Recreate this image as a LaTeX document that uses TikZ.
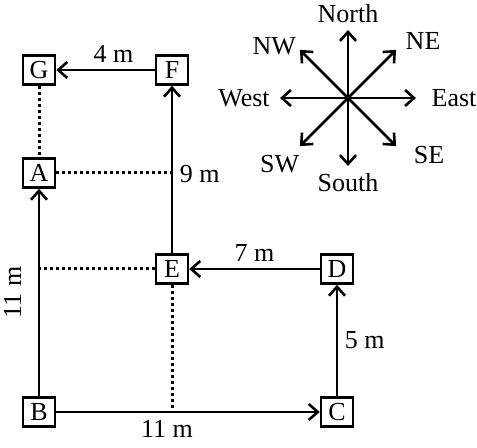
\documentclass[tikz,border=0pt]{standalone}
\usepackage{fontspec}
\setmainfont{Liberation Serif}
\usetikzlibrary{arrows.meta}

\begin{document}
\begin{tikzpicture}[x=0.5pt, y=0.5pt]
    \tikzstyle{every node}=[font=\fontsize{13}{15}\selectfont]
    \tikzstyle{spot}=[draw, rectangle, line width=1.3pt, inner sep=0pt,
                      minimum width=16pt, minimum height=14.5pt]
    \tikzstyle{walk}=[line width=1.3pt, -{Straight Barb[length=4.5pt, width=8pt]}]
    \tikzstyle{guide}=[line width=1.5pt, dash pattern=on 1.5pt off 1.5pt]
    \useasboundingbox (0,0) rectangle (477,448);
    % points of the walk
    \node[spot] (G) at (39,378) {G};
    \node[spot] (F) at (172,378) {F};
    \node[spot] (A) at (39,275) {A};
    \node[spot] (E) at (172,179) {E};
    \node[spot] (D) at (337,179) {D};
    \node[spot] (B) at (39,36) {B};
    \node[spot] (C) at (337,36) {C};
    % the walk
    \draw[walk] (B) -- node[midway, xshift=-5pt, above, rotate=90] {11 m} (A);
    \draw[walk] (B) -- node[pos=0.42, below] {11 m} (C);
    \draw[walk] (C) -- node[midway, right] {5 m} (D);
    \draw[walk] (D) -- node[midway, above] {7 m} (E);
    \draw[walk] (E) -- node[pos=0.47, right] {9 m} (F);
    \draw[walk] (F) -- node[pos=0.42, above] {4 m} (G);
    % dotted guides
    \draw[guide] (G) -- (A);
    \draw[guide] (A) -- (A -| E);
    \draw[guide] (E) -- (E -| B);
    \draw[guide] (E) -- (E |- B);
    % compass
    \coordinate (O) at (348,350);
    \foreach \ang in {0,45,...,315} {
        \path (O) ++(\ang:68) coordinate (t\ang);
        \draw[walk] (O) -- (t\ang);
    }
    \foreach \ang/\r/\dir in {90/84/North, 37/94/NE, 145/90/NW, 180/104/West,
                              0/106/East, -35/99/SE, 224/95/SW, 270/85/South}
        \path (O) ++(\ang:\r) node (\dir) {\dir};
\end{tikzpicture}
\end{document}
